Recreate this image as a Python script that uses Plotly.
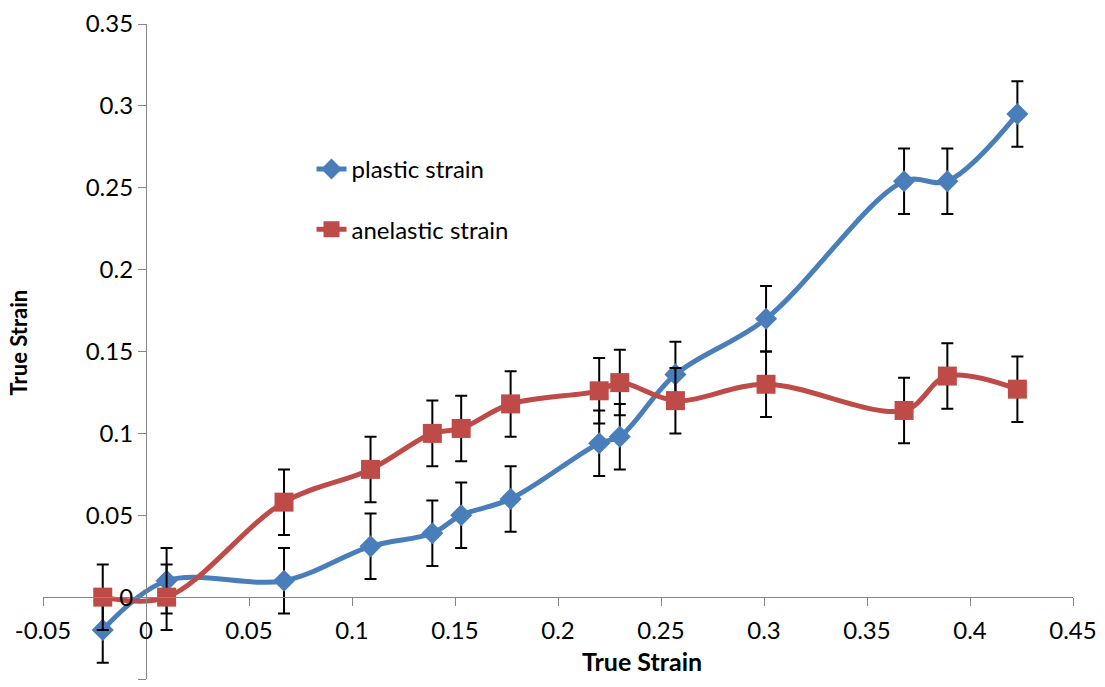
import plotly.graph_objects as go

# True strain (x) and the two strain components measured at each step
true_strain = [-0.021, 0.010, 0.067, 0.109, 0.139, 0.153, 0.177, 0.220, 0.230,
               0.257, 0.301, 0.368, 0.389, 0.423]
plastic_strain = [-0.020, 0.010, 0.010, 0.031, 0.039, 0.050, 0.060, 0.094, 0.098,
                  0.136, 0.170, 0.254, 0.254, 0.295]
anelastic_strain = [0.000, 0.000, 0.058, 0.078, 0.100, 0.103, 0.118, 0.126, 0.131,
                    0.120, 0.130, 0.114, 0.135, 0.127]
error_size = 0.02

x_ticks = [-0.05, 0, 0.05, 0.1, 0.15, 0.2, 0.25, 0.3, 0.35, 0.4, 0.45]
x_tick_text = ["-0.05", "0", "0.05", "0.1", "0.15", "0.2", "0.25", "0.3", "0.35", "0.4", "0.45"]
y_ticks = [-0.05, 0, 0.05, 0.1, 0.15, 0.2, 0.25, 0.3, 0.35]
y_tick_text = ["-0.05", "0", "0.05", "0.1", "0.15", "0.2", "0.25", "0.3", "0.35"]

FONT = "Lato, 'Open Sans', sans-serif"
BLUE = "#4A7EBB"
RED = "#BE4B48"
AXIS = "#868686"

fig = go.Figure()

fig.add_trace(go.Scatter(
    x=true_strain, y=plastic_strain, name="plastic strain",
    mode="lines+markers",
    line=dict(color=BLUE, width=5, shape="spline", smoothing=1),
    marker=dict(symbol="diamond", size=17, color=BLUE),
    error_y=dict(type="constant", value=error_size, color="black", thickness=2, width=6),
    legend="legend",
))

fig.add_trace(go.Scatter(
    x=true_strain, y=anelastic_strain, name="anelastic strain",
    mode="lines+markers",
    line=dict(color=RED, width=5, shape="spline", smoothing=1),
    marker=dict(symbol="square", size=19, color=RED),
    error_y=dict(type="constant", value=error_size, color="black", thickness=2, width=6),
    legend="legend2",
))

axis_common = dict(
    showgrid=False, zeroline=False, showline=True, linecolor=AXIS, linewidth=1.2,
    ticks="outside", ticklen=8, tickcolor=AXIS, tickwidth=1.2,
    tickfont=dict(family=FONT, size=24, color="black"),
)

legend_common = dict(xanchor="left", yanchor="middle", bgcolor="rgba(0,0,0,0)",
                     font=dict(family=FONT, size=24, color="black"))

fig.update_layout(
    width=1105, height=687,
    margin=dict(l=43, r=30, t=22, b=8),
    plot_bgcolor="white", paper_bgcolor="white",
    font=dict(family=FONT, color="black"),
    showlegend=True,
    xaxis=dict(range=[-0.05, 0.45], tickvals=x_ticks, ticktext=x_tick_text,
               anchor="free", position=0.125, ticklabelstandoff=4, **axis_common),
    yaxis=dict(range=[-0.05, 0.35], tickvals=y_ticks, ticktext=y_tick_text,
               anchor="free", position=0.1, **axis_common),
    legend=dict(x=0.2607, y=0.778, **legend_common),
    legend2=dict(x=0.2607, y=0.686, **legend_common),
    annotations=[
        dict(text="<b>True Strain</b>", x=0.582, y=0.0274, xref="paper", yref="paper",
             xanchor="center", yanchor="middle",
             showarrow=False, font=dict(family=FONT, size=25)),
        dict(text="<b>True Strain</b>", x=-0.0242, y=0.514, xref="paper", yref="paper",
             xanchor="center", yanchor="middle",
             showarrow=False, textangle=-90, font=dict(family=FONT, size=22)),
    ],
)

fig.write_html("out.html")
